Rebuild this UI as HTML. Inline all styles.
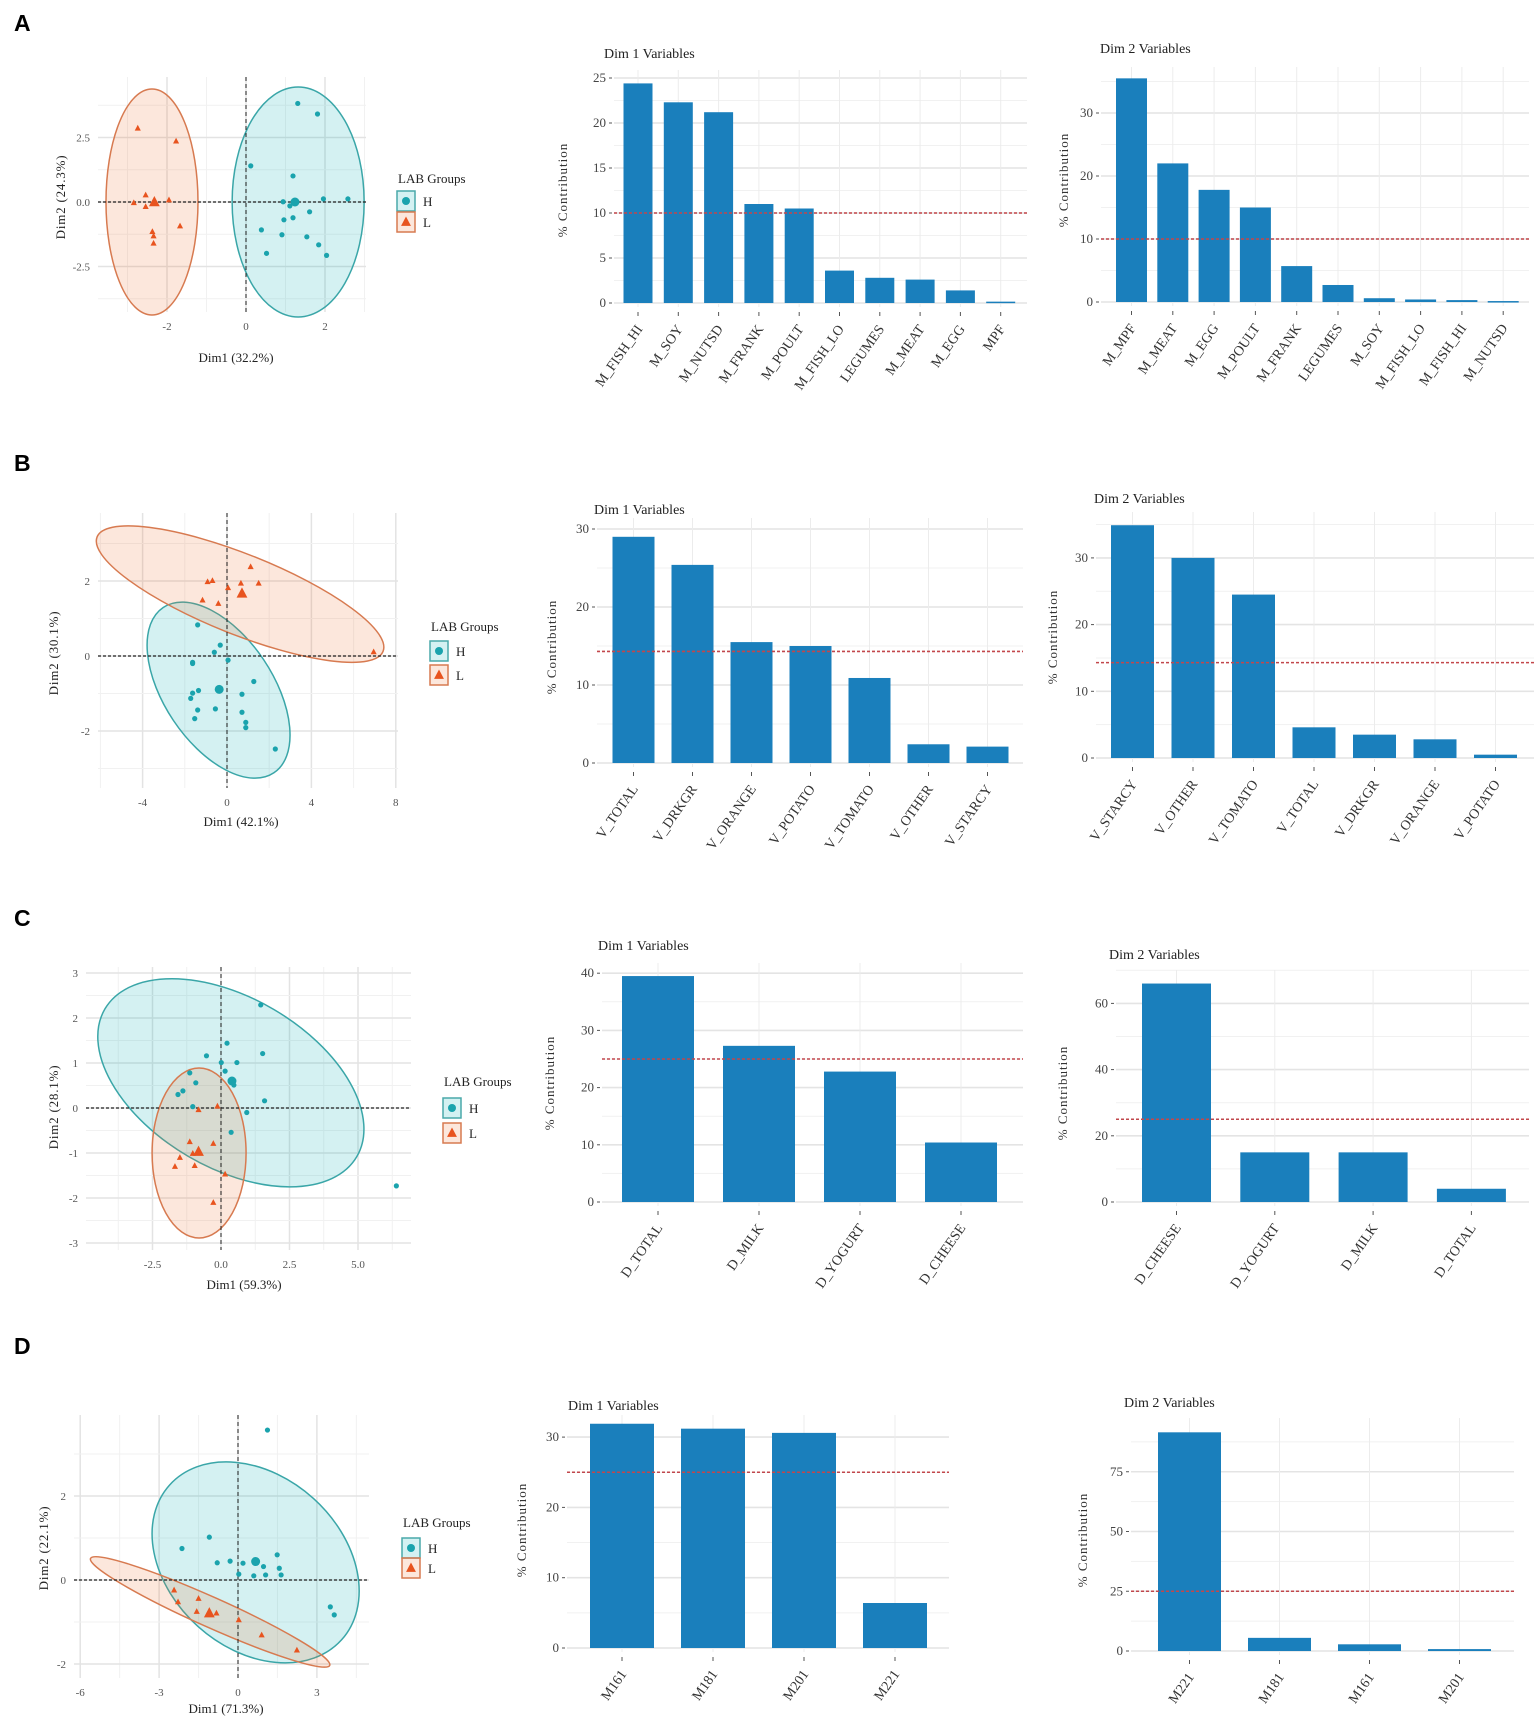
<!DOCTYPE html>
<html><head><meta charset="utf-8">
<style>
html,body{margin:0;padding:0;background:#fff;}
svg{display:block;font-family:"Liberation Serif",serif;}
.pl{font-family:"Liberation Sans",sans-serif;font-weight:bold;font-size:23px;fill:#000;}
</style></head>
<body>
<svg id="fig" width="1535" height="1727" viewBox="0 0 1535 1727" xmlns="http://www.w3.org/2000/svg">
<text class="pl" x="14" y="31">A</text>
<text class="pl" x="14" y="471">B</text>
<text class="pl" x="14" y="926">C</text>
<text class="pl" x="14" y="1354">D</text>
</svg>
<script>
// ---------- Panel A data ----------
const aHx=[1.31,1.81,0.12,1.19,0.94,1.11,1.61,1.96,2.58,0.96,1.19,0.39,0.91,1.54,1.84,0.52,2.04];
const aHy=[3.82,3.41,1.40,1.01,0.01,-0.15,-0.38,0.12,0.12,-0.69,-0.61,-1.08,-1.27,-1.35,-1.66,-1.99,-2.07];
const aLx=[-2.74,-1.77,-2.54,-2.84,-2.54,-1.95,-1.67,-2.37,-2.34,-2.34];
const aLy=[2.86,2.36,0.27,-0.03,-0.18,0.08,-0.93,-1.15,-1.32,-1.60];
const aCentH=[1.24,0.0], aCentL=[-2.32,0.0];
const aEllH=[1.32,0.0,66,115,0], aEllL=[-2.38,0.0,46,113,0];
const a1Cats=["M_FISH_HI","M_SOY","M_NUTSD","M_FRANK","M_POULT","M_FISH_LO","LEGUMES","M_MEAT","M_EGG","MPF"];
const a1Vals=[24.4,22.3,21.2,11.0,10.5,3.6,2.8,2.6,1.4,0.15];
const a1Ticks=[0,5,10,15,20,25];
const a2Cats=["M_MPF","M_MEAT","M_EGG","M_POULT","M_FRANK","LEGUMES","M_SOY","M_FISH_LO","M_FISH_HI","M_NUTSD"];
const a2Vals=[35.5,22.0,17.8,15.0,5.7,2.7,0.6,0.4,0.3,0.15];
const a2Ticks=[0,10,20,30];
const aCut=10;
// ---------- Panel B data ----------
const bHx=[-1.39,-0.32,-0.60,0.05,-1.63,-1.63,-1.35,-1.63,-1.72,0.71,1.27,-1.39,-0.55,0.71,-1.53,0.89,0.89,2.29];
const bHy=[0.83,0.29,0.10,-0.11,-0.17,-0.20,-0.92,-0.99,-1.13,-1.02,-0.68,-1.44,-1.41,-1.50,-1.67,-1.77,-1.91,-2.48];
const bLx=[1.12,-0.92,-0.69,0.05,0.66,1.50,-1.16,-0.41,6.95];
const bLy=[2.38,1.98,2.01,1.82,1.94,1.94,1.49,1.40,0.11];
const bCentH=[-0.37,-0.89], bCentL=[0.71,1.67];
const bEllH=[-0.40,-0.91,99.5,54.4,56.2], bEllL=[0.62,1.65,154,40,21.8];
const b1Cats=["V_TOTAL","V_DRKGR","V_ORANGE","V_POTATO","V_TOMATO","V_OTHER","V_STARCY"];
const b1Vals=[29.0,25.4,15.5,15.0,10.9,2.4,2.1];
const b1Ticks=[0,10,20,30];
const b2Cats=["V_STARCY","V_OTHER","V_TOMATO","V_TOTAL","V_DRKGR","V_ORANGE","V_POTATO"];
const b2Vals=[34.9,30.0,24.5,4.6,3.5,2.8,0.5];
const b2Ticks=[0,10,20,30];
const bCut=14.3;
// ---------- Panel C data ----------
const cHx=[1.45,0.22,-0.53,1.52,0.01,0.58,0.15,-1.14,-0.92,0.47,-1.39,-1.57,1.59,-1.03,0.94,0.37,6.40];
const cHy=[2.29,1.44,1.16,1.21,1.01,1.01,0.82,0.78,0.56,0.51,0.38,0.30,0.16,0.03,-0.10,-0.54,-1.73];
const cLx=[-0.13,-0.82,-1.14,-0.28,-1.50,-1.03,-1.68,-0.96,0.15,-0.28];
const cLy=[0.04,-0.04,-0.75,-0.79,-1.10,-1.01,-1.30,-1.28,-1.47,-2.10];
const cCentH=[0.40,0.60], cCentL=[-0.82,-0.97];
const cEllH=[0.36,0.56,146,85,30.4], cEllL=[-0.80,-1.0,47,85,0];
const c1Cats=["D_TOTAL","D_MILK","D_YOGURT","D_CHEESE"];
const c1Vals=[39.5,27.3,22.8,10.4];
const c1Ticks=[0,10,20,30,40];
const c2Cats=["D_CHEESE","D_YOGURT","D_MILK","D_TOTAL"];
const c2Vals=[66.0,15.0,15.0,4.0];
const c2Ticks=[0,20,40,60];
const cCut=25;
// ---------- Panel D data ----------
const dHx=[1.12,-1.09,-2.13,-0.79,-0.30,0.19,0.97,1.49,1.57,1.64,0.03,0.60,1.05,3.51,3.66];
const dHy=[3.57,1.02,0.75,0.41,0.45,0.40,0.32,0.60,0.28,0.12,0.14,0.10,0.12,-0.64,-0.83];
const dLx=[-2.43,-2.28,-1.50,-1.57,-0.82,0.03,0.90,2.24];
const dLy=[-0.24,-0.52,-0.44,-0.75,-0.79,-0.95,-1.31,-1.67];
const dCentH=[0.67,0.44], dCentL=[-1.09,-0.79];
const dEllH=[0.67,0.42,115.7,86.2,42], dEllL=[-1.06,-0.76,131,15,24.1];
const d1Cats=["M161","M181","M201","M221"];
const d1Vals=[31.9,31.2,30.6,6.4];
const d1Ticks=[0,10,20,30];
const d2Cats=["M221","M181","M161","M201"];
const d2Vals=[91.5,5.5,2.8,0.8];
const d2Ticks=[0,25,50,75];
const dCut=25;

const NS="http://www.w3.org/2000/svg";
const fig=document.getElementById('fig');
function mk(tag,attrs,parent){const e=document.createElementNS(NS,tag);for(const k in attrs)e.setAttribute(k,attrs[k]);(parent||fig).appendChild(e);return e;}
const HC="#1aa3ad", LC="#e8541f", BAR="#1a7fbc";

function barChart(p,cats,vals,ticks,cut){
  const g=mk('g',{});
  
  
  const ys=v=>p.y0-v*p.ppu;
  const xs=i=>p.c0+i*p.step;
  const step=ticks[1]-ticks[0];
  for(let v=0;ys(v)>=p.top-1;v+=step/2){
    const maj=Math.abs(v/step-Math.round(v/step))<1e-6;
    const l=mk('line',{x1:p.left,x2:p.right,y1:ys(v),y2:ys(v),stroke:maj?"#e4e4e4":"#f1f1f1","stroke-width":maj?1.6:1},g);
    
    
  }
  cats.forEach((c,i)=>{
    const l=mk('line',{x1:xs(i),x2:xs(i),y1:p.top,y2:p.y0+4,stroke:"#ececec","stroke-width":1},g);
    
    
  });
  ticks.forEach(t=>{
    const tx=mk('text',{x:p.left-8,y:ys(t)+4,"text-anchor":"end","font-size":"13",fill:"#444"},g);
    tx.textContent=t;
    
    
    mk('line',{x1:p.left-5,x2:p.left-2,y1:ys(t),y2:ys(t),stroke:"#555"},g);
  });
  cats.forEach((c,i)=>{
    const r=mk('rect',{x:xs(i)-p.bw/2,y:ys(vals[i]),width:p.bw,height:Math.max(vals[i]*p.ppu,1.5),fill:BAR},g);
    
    
    mk('line',{x1:xs(i),x2:xs(i),y1:p.y0+9,y2:p.y0+13,stroke:"#555"},g);
    const t=mk('text',{x:xs(i)+5,y:p.y0+26,"text-anchor":"end","font-size":"14",fill:"#333",transform:`rotate(-55 ${xs(i)+5} ${p.y0+26})`},g);
    t.textContent=c;
    
    
  });
  const cl=mk('line',{x1:p.left,x2:p.right,y1:ys(cut),y2:ys(cut),stroke:"#c2474b","stroke-width":1.6,"stroke-dasharray":"3,2"},g);
  
  
  const ti=mk('text',{x:p.tx,y:p.ty,"font-size":"14",fill:"#222"},g);
  ti.textContent=p.title;
  
  
  const yl=mk('text',{x:p.lx,y:p.ly,"text-anchor":"middle","font-size":"13","letter-spacing":"1",fill:"#333",transform:`rotate(-90 ${p.lx} ${p.ly})`},g);
  yl.textContent="% Contribution";
  
  
}

function tri(x,y,s,g){return mk('path',{d:`M${x} ${y-s} L${x+s*0.9} ${y+s*0.7} L${x-s*0.9} ${y+s*0.7}Z`,fill:LC},g);}

function scatter(p,hx,hy,lx,ly,cH,cL,eH,eL){
  const g=mk('g',{});
  
  
  const X=v=>p.x0+v*p.xp, Y=v=>p.y0-v*p.yp;
  const xs=p.xt[1]-p.xt[0], ys=p.yt[1]-p.yt[0];
  for(let k=-20;k<=20;k++){
    const v=k*xs/2, px=X(v);
    if(px<p.l-1||px>p.r+1)continue;
    mk('line',{x1:px,x2:px,y1:p.t,y2:p.b,stroke:k%2?"#f1f1f1":"#e3e3e3","stroke-width":k%2?1:1.5},g);
  }
  for(let k=-20;k<=20;k++){
    const v=k*ys/2, py=Y(v);
    if(py<p.t-1||py>p.b+1)continue;
    mk('line',{x1:p.l,x2:p.r,y1:py,y2:py,stroke:k%2?"#f1f1f1":"#e3e3e3","stroke-width":k%2?1:1.5},g);
  }
  [[eH,"rgba(0,170,180,0.17)","#3aa6a8",'ellipse-h'],[eL,"rgba(240,110,50,0.17)","#d77a50",'ellipse-l']].forEach(([e,f,s,n])=>{
    const el=mk('ellipse',{cx:X(e[0]),cy:Y(e[1]),rx:e[2],ry:e[3],fill:f,stroke:s,"stroke-width":1.5,transform:`rotate(${e[4]} ${X(e[0])} ${Y(e[1])})`},g);
    
    
  });
  mk('line',{x1:X(0),x2:X(0),y1:p.t,y2:p.b,stroke:"#222","stroke-dasharray":"4,3"},g);
  mk('line',{x1:p.l,x2:p.r,y1:Y(0),y2:Y(0),stroke:"#222","stroke-width":1.3,"stroke-dasharray":"3,2"},g);
  hx.forEach((v,i)=>{
    const c=mk('circle',{cx:X(v),cy:Y(hy[i]),r:2.6,fill:HC},g);
    
    
  });
  lx.forEach((v,i)=>{
    const t=tri(X(v),Y(ly[i]),3.4,g);
    
    
  });
  const ch=mk('circle',{cx:X(cH[0]),cy:Y(cH[1]),r:4.5,fill:HC},g);
  
  
  const cl=tri(X(cL[0]),Y(cL[1]),6,g);
  
  
  p.xt.forEach((v,i)=>{
    const t=mk('text',{x:X(v),y:p.b+18,"text-anchor":"middle","font-size":"11",fill:"#555"},g);
    t.textContent=p.xl[i];
    
    
  });
  p.yt.forEach((v,i)=>{
    const t=mk('text',{x:p.l-8,y:Y(v)+4,"text-anchor":"end","font-size":"11",fill:"#555"},g);
    t.textContent=p.yl[i];
    
    
  });
  const d1=mk('text',{x:p.d1x,y:p.d1y,"text-anchor":"middle","font-size":"13",fill:"#222"},g);
  d1.textContent=p.d1;
  
  
  const d2=mk('text',{x:p.d2x,y:p.d2y,"text-anchor":"middle","font-size":"13","letter-spacing":"0.8",fill:"#222",transform:`rotate(-90 ${p.d2x} ${p.d2y})`},g);
  d2.textContent=p.d2;
  
  
  const lg=mk('g',{},g);
  
  
  const lt=mk('text',{x:p.gx,y:p.gy,"font-size":"13",fill:"#222"},lg);
  lt.textContent="LAB Groups";
  
  
  [["H",p.hy,HC,"#4aa9aa","rgba(0,170,180,0.17)"],["L",p.ly,LC,"#d77a50","rgba(240,110,50,0.17)"]].forEach(([n,y,c,s,f])=>{
    const e=mk('g',{},lg);
    
    
    mk('rect',{x:p.gx-1,y:y-10,width:18,height:20,fill:f,stroke:s,"stroke-width":1.5},e);
    if(n==="H")mk('circle',{cx:p.gx+8,cy:y,r:4,fill:c},e);else tri(p.gx+8,y,5.5,e);
    const t=mk('text',{x:p.gx+25,y:y+5,"font-size":"13",fill:"#222"},e);
    t.textContent=n;
  });
}

scatter({name:'scatter-a',x0:246,xp:39.5,y0:202,yp:25.8,l:98,r:366,t:77,b:312,xt:[-2,0,2],xl:["-2","0","2"],yt:[-2.5,0,2.5],yl:["-2.5","0.0","2.5"],d1:"Dim1 (32.2%)",d1x:236,d1y:362,d2:"Dim2 (24.3%)",d2x:65,d2y:197,gx:398,gy:183,hy:201,ly:222},aHx,aHy,aLx,aLy,aCentH,aCentL,aEllH,aEllL);
barChart({name:'bar-chart-a-dim1',y0:303,ppu:9,top:70,left:614,right:1027,c0:638,step:40.3,bw:29,title:"Dim 1 Variables",tx:604,ty:58,lx:567,ly:190},a1Cats,a1Vals,a1Ticks,aCut);
barChart({name:'bar-chart-a-dim2',y0:302,ppu:6.3,top:67,left:1101,right:1529,c0:1131.5,step:41.3,bw:31,title:"Dim 2 Variables",tx:1100,ty:53,lx:1068,ly:180},a2Cats,a2Vals,a2Ticks,aCut);
scatter({name:'scatter-b',x0:227,xp:21.1,y0:656,yp:37.5,l:98,r:398,t:513,b:788,xt:[-4,0,4,8],xl:["-4","0","4","8"],yt:[-2,0,2],yl:["-2","0","2"],d1:"Dim1 (42.1%)",d1x:241,d1y:826,d2:"Dim2 (30.1%)",d2x:58,d2y:653,gx:431,gy:631,hy:651,ly:675},bHx,bHy,bLx,bLy,bCentH,bCentL,bEllH,bEllL);
barChart({name:'bar-chart-b-dim1',y0:763,ppu:7.8,top:518,left:597,right:1023,c0:633.5,step:59,bw:42,title:"Dim 1 Variables",tx:594,ty:514,lx:556,ly:647},b1Cats,b1Vals,b1Ticks,bCut);
barChart({name:'bar-chart-b-dim2',y0:758,ppu:6.67,top:512,left:1096,right:1534,c0:1132.5,step:60.5,bw:43,title:"Dim 2 Variables",tx:1094,ty:503,lx:1057,ly:637},b2Cats,b2Vals,b2Ticks,bCut);
scatter({name:'scatter-c',x0:221,xp:27.4,y0:1108,yp:45,l:86,r:411,t:967,b:1250,xt:[-2.5,0,2.5,5],xl:["-2.5","0.0","2.5","5.0"],yt:[-3,-2,-1,0,1,2,3],yl:["-3","-2","-1","0","1","2","3"],d1:"Dim1 (59.3%)",d1x:244,d1y:1289,d2:"Dim2 (28.1%)",d2x:58,d2y:1107,gx:444,gy:1086,hy:1108,ly:1133},cHx,cHy,cLx,cLy,cCentH,cCentL,cEllH,cEllL);
barChart({name:'bar-chart-c-dim1',y0:1202,ppu:5.72,top:963,left:602,right:1023,c0:658,step:101,bw:72,title:"Dim 1 Variables",tx:598,ty:950,lx:554,ly:1083},c1Cats,c1Vals,c1Ticks,cCut);
barChart({name:'bar-chart-c-dim2',y0:1202,ppu:3.31,top:970,left:1116,right:1529,c0:1176.5,step:98.3,bw:69,title:"Dim 2 Variables",tx:1109,ty:959,lx:1067,ly:1093},c2Cats,c2Vals,c2Ticks,cCut);
scatter({name:'scatter-d',x0:238,xp:26.3,y0:1580,yp:42,l:74,r:369,t:1415,b:1678,xt:[-6,-3,0,3],xl:["-6","-3","0","3"],yt:[-2,0,2],yl:["-2","0","2"],d1:"Dim1 (71.3%)",d1x:226,d1y:1713,d2:"Dim2 (22.1%)",d2x:48,d2y:1548,gx:403,gy:1527,hy:1548,ly:1568},dHx,dHy,dLx,dLy,dCentH,dCentL,dEllH,dEllL);
barChart({name:'bar-chart-d-dim1',y0:1648,ppu:7.03,top:1415,left:567,right:949,c0:622,step:91,bw:64,title:"Dim 1 Variables",tx:568,ty:1410,lx:526,ly:1530},d1Cats,d1Vals,d1Ticks,dCut);
barChart({name:'bar-chart-d-dim2',y0:1651,ppu:2.39,top:1418,left:1131,right:1514,c0:1189.5,step:90,bw:63,title:"Dim 2 Variables",tx:1124,ty:1407,lx:1087,ly:1540},d2Cats,d2Vals,d2Ticks,dCut);
</script>
</body></html>
